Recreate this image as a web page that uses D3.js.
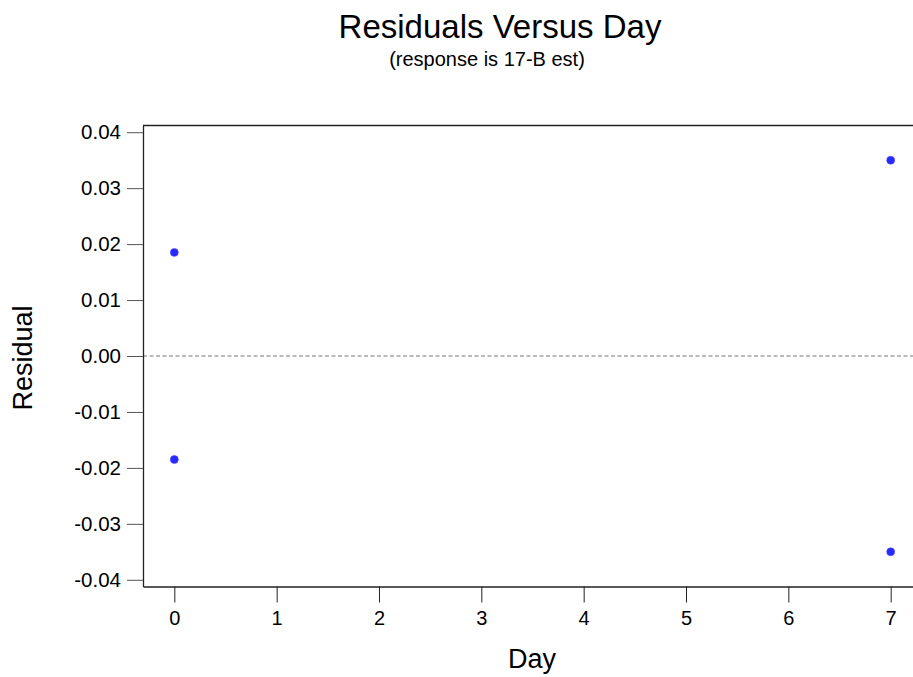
<!DOCTYPE html>
<html>
<head>
<meta charset="utf-8">
<script src="https://cdn.jsdelivr.net/npm/d3@7/dist/d3.min.js"></script>
<style>
html,body{margin:0;padding:0;background:#fff;}
svg{display:block;font-family:"Liberation Sans",Arial,sans-serif;}
</style>
</head>
<body>
<svg id="chart" width="913" height="677"></svg>
<script>
const days = [0, 0, 7, 7];
const residuals = [0.0185, -0.0185, 0.0350, -0.0350];
const xTicks = [0, 1, 2, 3, 4, 5, 6, 7];
const yTicks = [0.04, 0.03, 0.02, 0.01, 0.00, -0.01, -0.02, -0.03, -0.04];
const titleText = "Residuals Versus Day";
const subtitleText = "(response is 17-B est)";
const xLabel = "Day";
const yLabel = "Residual";

(function () {
const svg = d3.select("#chart");
const pLeft = 143, pRight = 922, pTop = 125.5, pBottom = 586.5;

const x = d3.scaleLinear().domain([-0.306, 7.306]).range([pLeft, pRight]);
const y = d3.scaleLinear().domain([-0.0412, 0.0412]).range([pBottom, pTop]);

// frame: top line
svg.append("line").attr("x1", pLeft).attr("x2", pRight).attr("y1", pTop).attr("y2", pTop)
  .attr("stroke", "#222").attr("stroke-width", 1.3);

// zero reference line
svg.append("line").attr("x1", pLeft).attr("x2", pRight).attr("y1", y(0)).attr("y2", y(0))
  .attr("stroke", "#777").attr("stroke-width", 1).attr("stroke-dasharray", "4,2.5");

const yAxis = d3.axisLeft(y).tickValues(yTicks).tickFormat(d => (Math.abs(d) < 1e-9 ? 0 : d).toFixed(2))
  .tickSize(16).tickPadding(6).tickSizeOuter(0);
const gy = svg.append("g").attr("transform", `translate(${pLeft},0)`).call(yAxis);
gy.select(".domain").attr("stroke", "#222").attr("stroke-width", 1.3);
gy.selectAll(".tick line").attr("stroke", "#555");
gy.selectAll(".tick text").attr("font-size", 20.5).attr("fill", "#000")
  .attr("font-family", "Liberation Sans, Arial, sans-serif");

const xAxis = d3.axisBottom(x).tickValues(xTicks).tickFormat(d3.format("d")).tickSize(16).tickPadding(8).tickSizeOuter(0);
const gx = svg.append("g").attr("transform", `translate(0,${pBottom})`).call(xAxis);
gx.select(".domain").attr("stroke", "#222").attr("stroke-width", 1.3);
gx.selectAll(".tick line").attr("stroke", "#222");
gx.selectAll(".tick text").attr("font-size", 20).attr("fill", "#000")
  .attr("font-family", "Liberation Sans, Arial, sans-serif");

// points
svg.append("g").selectAll("circle").data(days.map((d, i) => [d, residuals[i]]))
  .join("circle")
  .attr("cx", d => x(d[0])).attr("cy", d => y(d[1])).attr("r", 4)
  .attr("fill", "#2a2aff").attr("stroke", "#4040ff").attr("stroke-width", 0.5);

// titles
svg.append("text").attr("x", 500).attr("y", 38).attr("text-anchor", "middle")
  .attr("font-size", 33).attr("fill", "#000").text(titleText);
svg.append("text").attr("x", 487).attr("y", 66).attr("text-anchor", "middle")
  .attr("font-size", 20).attr("fill", "#000").text(subtitleText);

// axis labels
svg.append("text").attr("x", 532).attr("y", 668).attr("text-anchor", "middle")
  .attr("font-size", 27).attr("fill", "#000").text(xLabel);
svg.append("text").attr("transform", "translate(32,358) rotate(-90)").attr("text-anchor", "middle")
  .attr("font-size", 27).attr("fill", "#000").text(yLabel);
})();
</script>
</body>
</html>
